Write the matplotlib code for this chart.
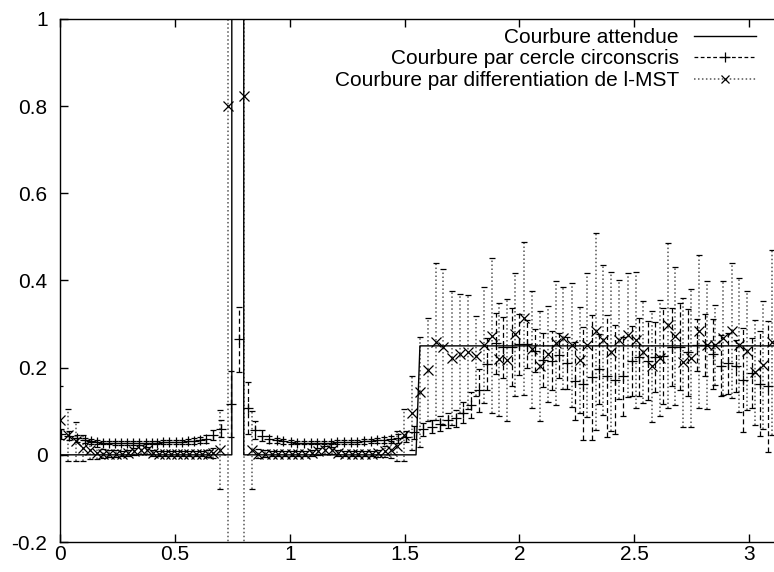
import matplotlib
matplotlib.use("Agg")
import matplotlib.pyplot as plt
from matplotlib.lines import Line2D

plt.rcParams['font.family'] = ['Liberation Sans', 'DejaVu Sans']
plt.rcParams['font.size'] = 15

# courbure attendue
x_att = [0.0, 0.748, 0.748, 0.800, 0.800, 1.550, 1.567, 3.1416]
y_att = [0.0, 0.0, 1.5, 1.5, 0.0, 0.0, 0.25, 0.25]

# courbure par cercle circonscrit (+)
x_cc = [0.004, 0.039, 0.075, 0.109, 0.134, 0.160, 0.186, 0.212, 0.238, 0.264,
        0.290, 0.316, 0.344, 0.373, 0.399, 0.424, 0.450, 0.476, 0.504, 0.530,
        0.559, 0.585, 0.609, 0.636, 0.667, 0.700, 0.743, 0.780,
        0.817, 0.849, 0.878, 0.911, 0.943, 0.972, 1.004, 1.033, 1.062, 1.091,
        1.120, 1.149, 1.178, 1.207, 1.236, 1.266, 1.294, 1.323, 1.352, 1.381,
        1.410, 1.440, 1.472, 1.505,
        1.541, 1.579, 1.618, 1.654, 1.690, 1.724, 1.756, 1.789, 1.825, 1.860,
        1.898, 1.930, 1.966, 2.000, 2.034, 2.068, 2.101, 2.141, 2.174, 2.209,
        2.242, 2.278, 2.315, 2.348, 2.380, 2.416, 2.452, 2.489, 2.522, 2.558,
        2.590, 2.627, 2.663, 2.699, 2.735, 2.772, 2.808, 2.841, 2.876, 2.910,
        2.943, 2.975, 3.011, 3.047, 3.084]
y_cc = [0.048, 0.044, 0.038, 0.033, 0.031, 0.029, 0.028, 0.028, 0.027, 0.027,
        0.027, 0.027, 0.027, 0.028, 0.028, 0.028, 0.029, 0.029, 0.030, 0.030,
        0.031, 0.032, 0.034, 0.037, 0.045, 0.060, 0.117, 0.265,
        0.107, 0.057, 0.044, 0.036, 0.033, 0.031, 0.029, 0.028, 0.028, 0.028,
        0.028, 0.028, 0.028, 0.029, 0.029, 0.030, 0.030, 0.031, 0.032, 0.033,
        0.035, 0.036, 0.038, 0.042,
        0.052, 0.059, 0.065, 0.071, 0.079, 0.084, 0.097, 0.115, 0.148, 0.209,
        0.256, 0.247, 0.247, 0.254, 0.255, 0.239, 0.218, 0.216, 0.228, 0.210,
        0.170, 0.163, 0.178, 0.197, 0.180, 0.172, 0.180, 0.216, 0.225, 0.216,
        0.225, 0.227, 0.248, 0.248, 0.235, 0.252, 0.252, 0.232, 0.204, 0.210,
        0.204, 0.172, 0.187, 0.163, 0.157]
e_cc = [0.012, 0.010, 0.008, 0.006, 0.005, 0.005, 0.004, 0.004, 0.004, 0.004,
        0.004, 0.004, 0.004, 0.004, 0.004, 0.004, 0.004, 0.004, 0.005, 0.005,
        0.005, 0.006, 0.007, 0.009, 0.012, 0.020, 0.075, 0.075,
        0.060, 0.020, 0.012, 0.008, 0.006, 0.005, 0.004, 0.004, 0.004, 0.004,
        0.004, 0.004, 0.004, 0.004, 0.004, 0.004, 0.004, 0.005, 0.005, 0.006,
        0.007, 0.008, 0.010, 0.012,
        0.015, 0.015, 0.016, 0.017, 0.018, 0.020, 0.025, 0.030, 0.050, 0.060,
        0.070, 0.070, 0.090, 0.070, 0.055, 0.050, 0.062, 0.067, 0.052, 0.060,
        0.090, 0.130, 0.143, 0.080, 0.140, 0.125, 0.090, 0.080, 0.090, 0.090,
        0.080, 0.110, 0.090, 0.100, 0.100, 0.060, 0.070, 0.080, 0.070, 0.070,
        0.060, 0.120, 0.080, 0.120, 0.150]

# courbure par differentiation de l-MST (x)
x_mst = [0.000, 0.036, 0.068, 0.100, 0.130, 0.160, 0.189, 0.215, 0.242, 0.268,
         0.297, 0.324, 0.353, 0.379, 0.406, 0.432, 0.458, 0.484, 0.510, 0.537,
         0.563, 0.590, 0.617, 0.644, 0.668, 0.697, 0.730,
         0.800, 0.834, 0.863, 0.892, 0.922, 0.950, 0.979, 1.008, 1.037, 1.067,
         1.096, 1.124, 1.153, 1.183, 1.211, 1.241, 1.270, 1.298, 1.328, 1.357,
         1.386, 1.413, 1.440, 1.468, 1.499, 1.531,
         1.567, 1.604, 1.637, 1.669, 1.705, 1.741, 1.775, 1.811, 1.846, 1.879,
         1.911, 1.945, 1.981, 2.020, 2.056, 2.090, 2.123, 2.158, 2.191, 2.228,
         2.264, 2.296, 2.332, 2.365, 2.399, 2.435, 2.471, 2.506, 2.540, 2.576,
         2.612, 2.646, 2.677, 2.714, 2.747, 2.783, 2.815, 2.852, 2.888, 2.924,
         2.957, 2.992, 3.026, 3.062, 3.098]
y_mst = [0.079, 0.046, 0.031, 0.015, 0.010, 0.005, 0.003, 0.003, 0.003, 0.003,
         0.004, 0.008, 0.012, 0.010, 0.004, 0.003, 0.003, 0.003, 0.003, 0.003,
         0.003, 0.003, 0.003, 0.003, 0.004, 0.012, 0.800,
         0.823, 0.011, 0.003, 0.003, 0.003, 0.003, 0.003, 0.003, 0.003, 0.003,
         0.004, 0.008, 0.011, 0.010, 0.004, 0.003, 0.003, 0.003, 0.003, 0.003,
         0.004, 0.008, 0.012, 0.020, 0.045, 0.096,
         0.145, 0.195, 0.260, 0.247, 0.222, 0.232, 0.236, 0.227, 0.252, 0.273,
         0.219, 0.218, 0.277, 0.313, 0.242, 0.204, 0.232, 0.256, 0.268, 0.252,
         0.218, 0.252, 0.283, 0.264, 0.237, 0.264, 0.275, 0.264, 0.235, 0.203,
         0.222, 0.297, 0.273, 0.212, 0.222, 0.283, 0.252, 0.252, 0.268, 0.285,
         0.252, 0.239, 0.189, 0.206, 0.258]
e_mst = [0.080, 0.060, 0.045, 0.030, 0.020, 0.014, 0.010, 0.008, 0.007, 0.006,
         0.006, 0.008, 0.010, 0.008, 0.006, 0.005, 0.005, 0.005, 0.005, 0.005,
         0.005, 0.005, 0.006, 0.007, 0.012, 0.090, 1.200,
         1.200, 0.090, 0.010, 0.007, 0.006, 0.005, 0.005, 0.005, 0.005, 0.005,
         0.006, 0.008, 0.010, 0.008, 0.006, 0.005, 0.005, 0.005, 0.005, 0.006,
         0.008, 0.012, 0.020, 0.035, 0.060, 0.085,
         0.126, 0.118, 0.180, 0.179, 0.153, 0.137, 0.131, 0.092, 0.133, 0.178,
         0.130, 0.140, 0.141, 0.176, 0.134, 0.126, 0.110, 0.142, 0.118, 0.142,
         0.122, 0.166, 0.225, 0.172, 0.183, 0.137, 0.142, 0.156, 0.117, 0.127,
         0.134, 0.190, 0.159, 0.148, 0.158, 0.176, 0.146, 0.092, 0.130, 0.155,
         0.153, 0.136, 0.121, 0.146, 0.212]

xticks = [0, 0.5, 1, 1.5, 2, 2.5, 3]
xtick_labels = ["0", "0.5", "1", "1.5", "2", "2.5", "3"]
yticks = [-0.2, 0, 0.2, 0.4, 0.6, 0.8, 1]
ytick_labels = ["-0.2", "0", "0.2", "0.4", "0.6", "0.8", "1"]

labels = ["Courbure attendue",
          "Courbure par cercle circonscris",
          "Courbure par differentiation de l-MST"]

fig = plt.figure(figsize=(7.74, 5.72), dpi=100)
# l'axe droit tombe juste hors de l'image, comme dans l'original
ax = fig.add_axes([60 / 774, 30 / 572, 721.6 / 774, 523 / 572])

dash = (0, (4, 2.5))
dot = (0, (1, 1.6))

ax.plot(x_att, y_att, color='black', lw=1.0, zorder=3)

eb1 = ax.errorbar(x_cc, y_cc, yerr=e_cc, fmt='+', color='black', ms=7, mew=0.9,
                  elinewidth=0.9, capsize=2, capthick=0.9, zorder=4)
eb1[2][0].set_linestyle(dash)

eb2 = ax.errorbar(x_mst, y_mst, yerr=e_mst, fmt='x', color='black', ms=6.5, mew=0.9,
                  elinewidth=1.1, capsize=2, capthick=1.0, zorder=2)
eb2[2][0].set_linestyle(dot)
eb2[2][0].set_color('#555555')
for c in eb2[1]:
    c.set_color('#555555')

ax.set_xlim(0, 3.1416)
ax.set_ylim(-0.2, 1)
ax.set_xticks(xticks)
ax.set_xticklabels(xtick_labels)
ax.set_yticks(yticks)
ax.set_yticklabels(ytick_labels)
ax.tick_params(direction='in', length=6, width=1, top=True, right=True)
ax.tick_params(axis='y', pad=9)
ax.tick_params(axis='x', pad=2)
for s in ax.spines.values():
    s.set_linewidth(1.0)

handles = [Line2D([], [], color='black', lw=1.0),
           Line2D([], [], color='black', lw=0.9, ls=(0, (3, 2)), marker='+', ms=7, mew=0.9),
           Line2D([], [], color='#555555', lw=1.1, ls=(0, (1, 1.6)), marker='x', ms=6,
                  mew=0.9, mec='black')]
ax.legend(handles, labels, loc='upper right', markerfirst=False, frameon=False,
          bbox_to_anchor=(756 / 774, 1 - 28 / 572), bbox_transform=fig.transFigure,
          borderpad=0, borderaxespad=0, handlelength=3.0, handletextpad=0.7,
          labelspacing=0.12, fontsize=15)

fig.savefig("out.png", dpi=100)
